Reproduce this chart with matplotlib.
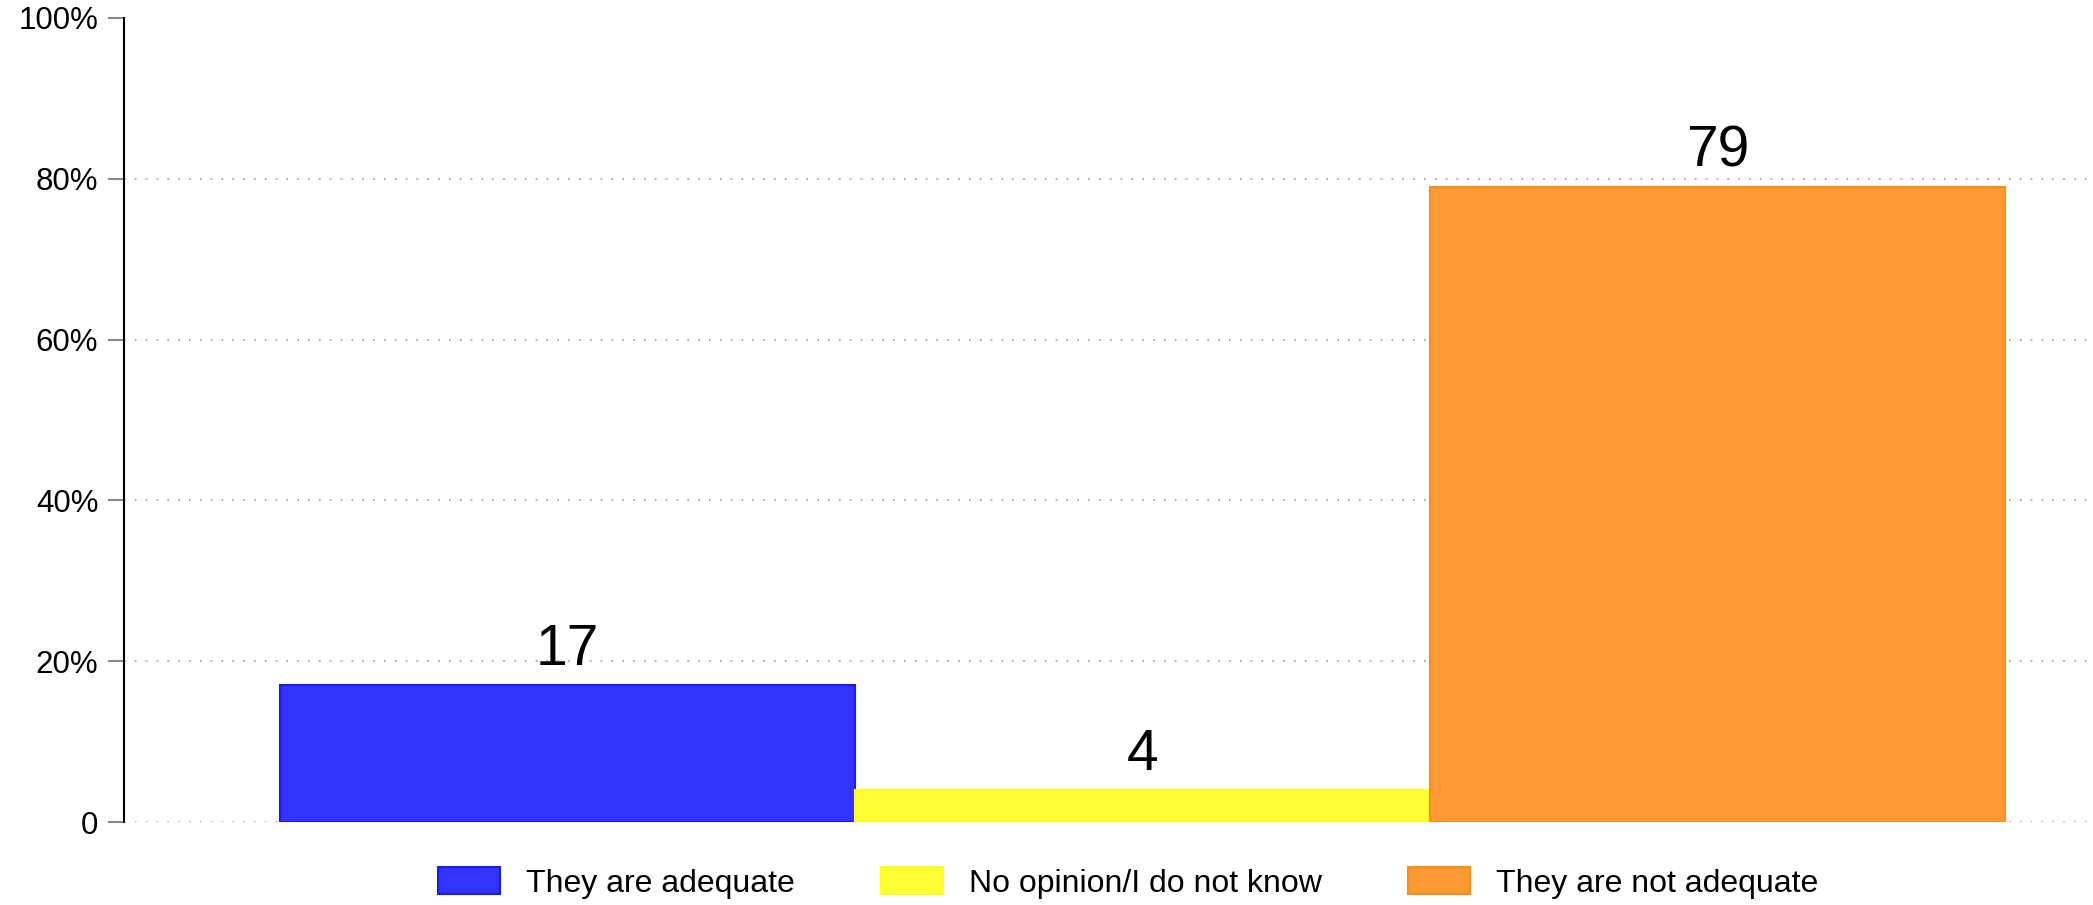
import matplotlib
matplotlib.use("Agg")
import matplotlib.pyplot as plt
from matplotlib.patches import Patch

plt.rcParams['font.family'] = ['Liberation Sans', 'DejaVu Sans']

categories = ["They are adequate", "No opinion/I do not know", "They are not adequate"]
values = [17, 4, 79]
value_labels = ["17", "4", "79"]
fill_colors = ["#3333ff", "#ffff33", "#ff9933"]
edge_colors = ["#1a1aff", "#ffff1a", "#ff8c1a"]
yticks = [0, 20, 40, 60, 80, 100]
ytick_labels = ["0", "20%", "40%", "60%", "80%", "100%"]

W, H = 2093, 905
fig = plt.figure(figsize=(W / 100, H / 100), dpi=100)
ax = fig.add_axes([124 / W, 1 - 822 / H, 1 - 124 / W, (822 - 18) / H])

x = list(range(len(values)))
ax.bar(x, values, width=1.0, color=fill_colors, edgecolor=edge_colors, linewidth=1.5, zorder=3)

for xi, v, lab in zip(x, values, value_labels):
    ax.annotate(lab, (xi, v), xytext=(0, 14.5), textcoords="offset points",
                ha="center", va="baseline", fontsize=41, color="black", zorder=4)

ax.set_xlim(-0.771, 2.653)
ax.set_ylim(0, 100)
ax.set_yticks(yticks)
ax.set_yticklabels(ytick_labels, fontsize=22.5)
ax.set_xticks([])

ax.yaxis.grid(True, color="#999999", linestyle=(0, (1, 5.5)), linewidth=1.2, zorder=0)
ax.set_axisbelow(True)
gl = ax.yaxis.get_gridlines()
gl[-1].set_visible(False)

for s in ["top", "right", "bottom"]:
    ax.spines[s].set_visible(False)
ax.spines["left"].set_color("black")
ax.spines["left"].set_linewidth(1.5)
ax.tick_params(axis="y", direction="out", length=11.5, width=1.5, color="#888888", pad=7)

handles = [Patch(facecolor=fc, edgecolor=ec, linewidth=1.5) for fc, ec in zip(fill_colors, edge_colors)]
fig.legend(handles, categories, loc="center", bbox_to_anchor=(1128 / W, 1 - 883 / H),
           ncol=3, frameon=False, fontsize=23, handlelength=1.95, handleheight=0.88,
           handletextpad=0.8, columnspacing=2.7, borderaxespad=0, borderpad=0)

fig.savefig("out.png", dpi=100)
